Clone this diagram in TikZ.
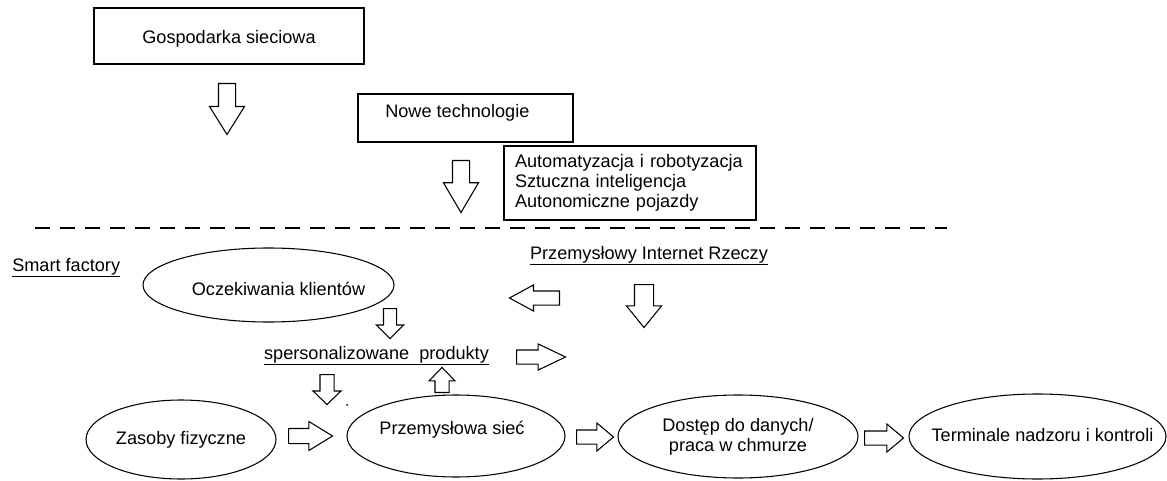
\documentclass[tikz,border=0pt]{standalone}
\usepackage{fontspec}
\setmainfont{Liberation Sans}
\usetikzlibrary{shapes.geometric,shapes.arrows}

\tikzset{
  lbl/.style={font=\fontsize{13.6}{15}\selectfont, inner sep=0.75pt},
  box/.style={draw, rectangle, line width=0.8pt, inner sep=0pt, font=\fontsize{13.6}{15}\selectfont},
  oval/.style 2 args={draw, ellipse, line width=0.8pt, inner sep=0pt, minimum width=#1, minimum height=#2, font=\fontsize{13.6}{15}\selectfont, align=center},
  hollow/.style n args={4}{draw, single arrow, line width=0.8pt, inner xsep=0pt, inner ysep=#2, minimum height=#1, single arrow head extend=#3, single arrow tip angle=#4},
  sepline/.style={line width=0.8pt, dash pattern=on 11.25pt off 7.5pt},
}

\begin{document}
\begin{tikzpicture}[x=0.75pt,y=0.75pt,yscale=-1,xscale=1]
\useasboundingbox (0,0) rectangle (1167,481);

% upper part
\node[box, minimum width=202.5pt, minimum height=42pt, label={[lbl, yshift=-2.25pt]center:Gospodarka sieciowa}] (gosp) at (229,36) {};
\node[hollow={38.25pt}{6pt}{6.75pt}{64}, rotate=-90, anchor=tail] (arrGosp) at (227,83) {};

\node[box, minimum width=161.25pt, minimum height=36pt] (nowe) at (465.5,118) {};
\node[lbl, anchor=west] (noweTxt) at (384,113) {Nowe technologie};
\node[box, minimum width=189pt, minimum height=55.5pt, inner xsep=8.25pt, text width=172.5pt, align=left] (techn) at (630,183) {Automatyzacja i robotyzacja\\Sztuczna inteligencja\\Autonomiczne pojazdy};
\node[hollow={39pt}{6pt}{6.75pt}{61}, rotate=-90, anchor=tail] (arrNowe) at (461,160) {};

% separator
\coordinate (sepL) at (35,228);
\coordinate (sepR) at (947,228);
\draw[sepline] (sepL) -- (sepR);

% smart factory
\node[lbl, anchor=base west] (smart) at (11,271) {\underline{Smart factory}};
\node[lbl, anchor=base] (iiot) at (649,259) {\underline{Przemysłowy Internet Rzeczy}};

\node[oval={188.25pt}{55.5pt}, label={[lbl, xshift=7.5pt, yshift=-3pt]center:Oczekiwania klientów}] (oczek) at (268.5,285) {};
\node[hollow={22.5pt}{4.5pt}{5.25pt}{90}, rotate=-90, anchor=tail] (arrOczek) at (390,308) {};
\node[lbl, anchor=base] (spers) at (376.5,359) {\underline{spersonalizowane\ \ produkty}};

\node[hollow={37.5pt}{4.875pt}{4.5pt}{57}, rotate=180, anchor=tail] (arrBack) at (560,298) {};
\node[hollow={32.25pt}{6.75pt}{6pt}{78}, rotate=-90, anchor=tail] (arrIiot) at (644,284) {};
\node[hollow={36.75pt}{4.875pt}{4.5pt}{51}, anchor=tail] (arrSpers) at (516,357) {};

\node[hollow={22.5pt}{4.875pt}{5.25pt}{92}, rotate=-90, anchor=tail] (arrDown) at (327,374) {};
\node[hollow={18.75pt}{4.875pt}{4.5pt}{88}, rotate=90, anchor=tail] (arrUp) at (442,393) {};
\fill (347,405) circle (1);

% lower chain
\node[oval={142.5pt}{59.25pt}] (zasoby) at (181,439.5) {Zasoby fizyczne};
\node[hollow={33pt}{5.25pt}{5.25pt}{63}, anchor=tail] (arrZas) at (288,436) {};
\node[oval={163.5pt}{61.5pt}, label={[lbl, xshift=-3pt, yshift=4.5pt]center:Przemysłowa sieć}] (przem) at (456,436) {};
\node[hollow={27.75pt}{4.875pt}{5.25pt}{80}, anchor=tail] (arrPrz) at (576,437) {};
\node[oval={180pt}{62.25pt}] (dost) at (738,436.5) {Dostęp do danych/\\praca w chmurze};
\node[hollow={29.25pt}{4.875pt}{5.25pt}{80}, anchor=tail] (arrDost) at (864,438) {};
\node[oval={192.75pt}{63.75pt}, label={[lbl, xshift=3.75pt, yshift=0.75pt]center:Terminale nadzoru i kontroli}] (term) at (1037.5,436.5) {};

\end{tikzpicture}
\end{document}
